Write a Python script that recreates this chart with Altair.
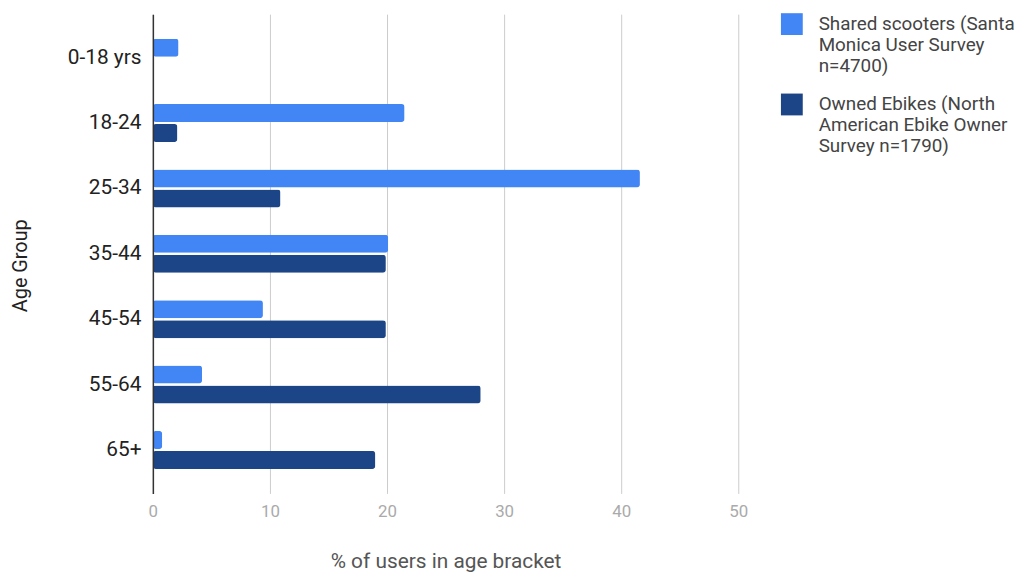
import altair as alt
import pandas as pd

age_groups = ["0-18 yrs", "18-24", "25-34", "35-44", "45-54", "55-64", "65+"]
scooters = [2.2, 21.5, 41.6, 20.1, 9.4, 4.2, 0.8]
ebikes = [None, 2.1, 10.9, 19.9, 19.9, 28.0, 19.0]
series_names = [
    "Shared scooters (Santa Monica User Survey n=4700)",
    "Owned Ebikes (North American Ebike Owner Survey n=1790)",
]
legend_lines = [
    ["Shared scooters (Santa", "Monica User Survey", "n=4700)"],
    ["Owned Ebikes (North", "American Ebike Owner", "Survey n=1790)"],
]
colors = ["#4285f4", "#1c4587"]
x_ticks = [0, 10, 20, 30, 40, 50]

rows = []
for i, g in enumerate(age_groups):
    rows.append({"age": g, "series": series_names[0], "pct": scooters[i]})
    rows.append({"age": g, "series": series_names[1], "pct": ebikes[i]})
df = pd.DataFrame(rows)


def arr(lines):
    return "[" + ", ".join("'" + s + "'" for s in lines) + "]"


label_expr = "datum.label == '{}' ? {} : {}".format(
    series_names[0], arr(legend_lines[0]), arr(legend_lines[1])
)

chart = (
    alt.Chart(df)
    .mark_bar(cornerRadius=3)
    .encode(
        y=alt.Y(
            "age:N",
            sort=age_groups,
            title="Age Group",
            scale=alt.Scale(paddingInner=0.42, paddingOuter=0.375),
            axis=alt.Axis(
                labelFontSize=21,
                labelColor="#222",
                labelPadding=12,
                ticks=False,
                domainColor="#333",
                domainWidth=1.5,
                zindex=1,
                titleFontSize=20,
                titleColor="#222",
                titleFontWeight="normal",
                titleX=-133,
                titleY=253,
                titleAngle=270,
                titleAlign="center",
                titleBaseline="middle",
            ),
        ),
        yOffset=alt.YOffset(
            "series:N", sort=series_names, scale=alt.Scale(paddingInner=0.1)
        ),
        x=alt.X(
            "pct:Q",
            scale=alt.Scale(domain=[0, 50], nice=False),
            title="% of users in age bracket",
            axis=alt.Axis(
                values=x_ticks,
                grid=True,
                gridColor="#cccccc",
                domain=False,
                ticks=False,
                labelFlush=False,
                labelColor="#aaaaaa",
                labelFontSize=17,
                labelPadding=10,
                titleFontSize=21,
                titleColor="#555555",
                titleFontWeight="normal",
                titlePadding=32,
            ),
        ),
        color=alt.Color(
            "series:N",
            sort=series_names,
            scale=alt.Scale(domain=series_names, range=colors),
            legend=alt.Legend(
                title=None,
                orient="none",
                legendX=633,
                legendY=-1,
                symbolType="square",
                symbolSize=484,
                symbolStrokeWidth=0,
                symbolOpacity=1,
                labelFontSize=19,
                labelColor="#444444",
                labelLimit=500,
                labelExpr=label_expr,
                labelBaseline="middle",
                rowPadding=18,
                labelOffset=16,
            ),
        ),
    )
    .properties(
        width=590,
        height=483,
        padding={"left": 146, "top": 4, "right": 290, "bottom": 82},
        autosize="none",
    )
    .configure(font="Roboto")
    .configure_view(stroke=None)
)

chart.save("out.html", embed_options={"renderer": "svg", "actions": False})
